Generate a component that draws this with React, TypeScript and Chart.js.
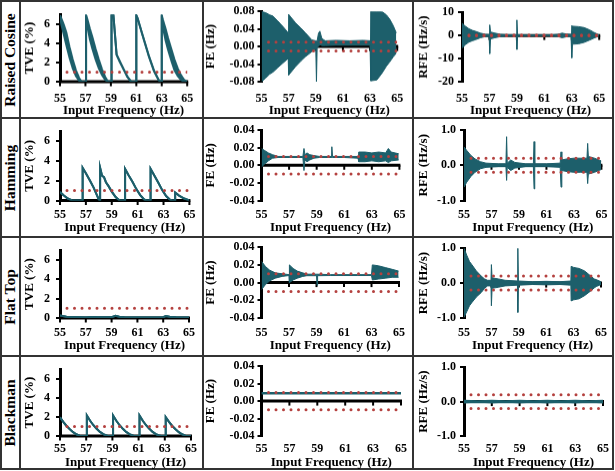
import React, { useEffect, useRef } from "react";
import { Chart, registerables } from "chart.js";

Chart.register(...registerables);

// ---------- axis ticks ----------
const FREQ_TICKS = [55, 57, 59, 61, 63, 65];
const TVE_TICKS = [0, 2, 4, 6];
const FE_TICKS_WIDE = [-0.08, -0.04, 0, 0.04, 0.08];
const FE_TICKS = [-0.04, -0.02, 0, 0.02, 0.04];
const RFE_TICKS_WIDE = [-20, -10, 0, 10];
const RFE_TICKS = [-1, 0, 1];

// ---------- compliance limits ----------
const TVE_LIMITS = [1];
const FE_LIMITS = [0.01, -0.01];
const RFE_LIMITS = [0.2, -0.2];

const WINDOW_NAMES = ["Raised Cosine", "Hamming", "Flat Top", "Blackman"];

// ---------- Raised Cosine ----------
const RC_TVE_X = [55.0, 55.1, 55.3, 55.5, 55.75, 56.0, 56.25, 56.5, 56.7, 57.05,
  57.05, 57.15, 57.35, 57.55, 57.8, 58.05, 58.3, 58.55, 58.75, 59.05,
  59.05, 59.2, 59.45, 59.7, 60.0, 60.3, 60.6, 61.0,
  61.0, 61.1, 61.5, 62.0, 62.4, 62.75, 62.9, 63.0,
  63.0, 63.1, 63.3, 63.5, 63.75, 64.0, 64.25, 64.5, 64.75, 65.0];
const RC_TVE_HI = [6.9, 6.6, 5.9, 5.1, 3.6, 2.3, 1.2, 0.4, 0.0, 0.0,
  6.9, 6.5, 5.5, 4.6, 3.4, 2.3, 1.3, 0.5, 0.05, 0.0,
  6.9, 6.9, 2.8, 2.1, 1.3, 0.5, 0.0, 0.0,
  6.9, 6.6, 4.8, 2.6, 1.1, 0.2, 0.0, 0.0,
  6.9, 6.4, 5.5, 4.5, 3.4, 2.3, 1.4, 0.7, 0.2, 0.0];
const RC_TVE_LO = [6.9, 6.0, 4.9, 3.8, 2.5, 1.4, 0.6, 0.1, 0.0, 0.0,
  6.9, 5.8, 4.4, 3.4, 2.3, 1.4, 0.7, 0.2, 0.0, 0.0,
  6.9, 6.9, 2.8, 2.1, 1.3, 0.5, 0.0, 0.0,
  6.9, 6.6, 4.8, 2.6, 1.1, 0.2, 0.0, 0.0,
  6.9, 5.6, 4.3, 3.3, 2.2, 1.2, 0.6, 0.2, 0.0, 0.0];

const RC_FE_X = [55.0, 55.3, 55.6, 55.85, 56.2, 56.56, 56.97, 57.0, 57.5, 57.9,
  58.24, 58.7, 59.0, 59.05, 59.1, 59.2, 59.3, 59.45, 59.7, 60.5,
  61.5, 62.5, 63.0, 63.05, 63.5, 63.85, 64.2, 64.45, 64.7, 64.93];
const RC_FE_HI = [0.08, 0.077, 0.072, 0.069, 0.058, 0.046, 0.031, 0.073, 0.054, 0.042,
  0.031, 0.015, 0.013, 0.013, 0.013, 0.03, 0.035, 0.018, 0.013, 0.014,
  0.013, 0.014, 0.013, 0.08, 0.08, 0.08, 0.072, 0.062, 0.048, 0.031];
const RC_FE_LO = [-0.08, -0.072, -0.063, -0.058, -0.048, -0.038, -0.027, -0.065, -0.046, -0.033,
  -0.023, -0.012, -0.005, -0.08, -0.003, 0.0, 0.005, 0.002, 0.002, 0.003,
  0.003, 0.003, 0.003, -0.078, -0.076, -0.062, -0.045, -0.035, -0.024, -0.015];

const RC_RFE_X = [55.0, 55.25, 55.5, 55.75, 56.0, 56.35, 56.7, 56.98, 57.02, 57.08,
  57.4, 57.8, 58.3, 58.97, 59.0, 59.05, 59.5, 60.5, 61.5, 62.0,
  62.3, 62.6, 62.95, 63.0, 63.05, 63.5, 63.9, 64.3, 64.6, 64.9, 65.0];
const RC_RFE_HI = [5.3, 4.0, 2.9, 2.2, 1.75, 1.0, 0.5, 0.4, 4.6, 1.5,
  1.0, 0.5, 0.3, 0.2, 6.7, 0.3, 0.2, 0.15, 0.2, 0.5,
  1.0, 0.6, 0.5, 4.3, 4.0, 3.8, 3.4, 2.4, 1.4, 0.5, 0.2];
const RC_RFE_LO = [-5.4, -4.0, -2.9, -2.3, -1.8, -1.0, -0.5, -0.4, -7.9, -1.5,
  -1.0, -0.5, -0.3, -0.2, -6.1, -0.3, -0.2, -0.15, -0.2, -0.5,
  -1.0, -0.6, -0.5, -9.7, -3.8, -3.6, -3.0, -2.0, -1.2, -0.5, -0.2];

// ---------- Hamming ----------
const HM_TVE_X = [55.0, 55.3, 55.6, 55.9, 56.1, 56.75,
  56.75, 57.0, 57.3, 57.6, 57.85, 58.0, 58.1,
  58.1, 58.25, 58.4, 58.55, 58.75, 59.0, 59.3, 59.6, 60.03,
  60.03, 60.3, 60.6, 60.9, 61.2, 61.5, 61.65, 62.0,
  62.0, 62.3, 62.6, 62.9, 63.2, 63.5, 63.65, 63.9,
  63.9, 64.2, 64.6, 65.0];
const HM_TVE_Y = [0.85, 0.5, 0.2, 0.03, 0.0, 0.0,
  3.3, 2.75, 2.05, 1.3, 0.55, 0.1, 0.0,
  3.3, 2.5, 2.35, 1.85, 1.45, 0.9, 0.35, 0.0, 0.0,
  3.2, 2.55, 1.9, 1.15, 0.55, 0.1, 0.0, 0.0,
  3.2, 2.5, 1.8, 1.05, 0.45, 0.08, 0.0, 0.0,
  0.8, 0.5, 0.2, 0.0];

const HM_FE_X = [55.0, 55.2, 55.5, 55.8, 56.2, 57.0, 58.0, 58.08, 58.15, 58.3,
  58.5, 58.8, 59.2, 60.05, 60.1, 60.15, 61.0, 62.0, 62.05, 62.5,
  63.0, 63.5, 64.0, 64.2, 64.4, 64.95];
const HM_FE_HI = [0.019, 0.017, 0.014, 0.012, 0.01, 0.01, 0.01, 0.019, 0.012, 0.014,
  0.012, 0.011, 0.01, 0.01, 0.021, 0.01, 0.01, 0.01, 0.015, 0.015,
  0.014, 0.015, 0.014, 0.019, 0.015, 0.013];
const HM_FE_LO = [-0.002, 0.001, 0.005, 0.008, 0.0088, 0.0088, 0.0088, -0.006, 0.006, 0.004,
  0.006, 0.008, 0.0088, 0.0088, 0.0088, 0.0088, 0.0088, 0.008, 0.004, 0.004,
  0.005, 0.004, 0.005, 0.003, 0.005, 0.006];

const HM_RFE_X = [55.0, 55.2, 55.5, 55.8, 56.2, 56.6, 57.5, 58.05, 58.1, 58.15,
  58.4, 58.7, 59.5, 60.05, 60.1, 60.15, 61.0, 62.0, 62.06, 62.12,
  62.5, 63.0, 63.5, 63.95, 64.0, 64.05, 64.5, 65.0];
const HM_RFE_HI = [0.52, 0.42, 0.28, 0.18, 0.1, 0.06, 0.04, 0.04, 0.81, 0.06,
  0.15, 0.08, 0.04, 0.04, 0.67, 0.04, 0.04, 0.06, 0.38, 0.15,
  0.18, 0.2, 0.2, 0.2, 0.62, 0.25, 0.2, 0.12];
const HM_RFE_LO = [-0.62, -0.48, -0.32, -0.2, -0.1, -0.06, -0.04, -0.04, -0.43, -0.06,
  -0.15, -0.08, -0.04, -0.04, -0.67, -0.04, -0.04, -0.06, -0.62, -0.15,
  -0.18, -0.2, -0.2, -0.2, -0.52, -0.25, -0.2, -0.12];

// ---------- Flat Top ----------
const FT_TVE_X = [55.0, 55.2, 55.5, 56.0, 57.0, 57.5, 58.0, 59.0, 59.3, 59.6,
  60.0, 61.0, 62.0, 63.0, 63.2, 63.5, 64.0, 65.0];
const FT_TVE_Y = [0.25, 0.2, 0.12, 0.1, 0.06, 0.1, 0.08, 0.08, 0.22, 0.12,
  0.08, 0.05, 0.06, 0.08, 0.2, 0.12, 0.08, 0.05];

const FT_FE_X = [55.0, 55.3, 55.6, 56.0, 56.5, 57.0, 57.03, 57.3, 57.6, 58.0,
  58.3, 59.0, 59.04, 59.08, 60.0, 61.0, 62.0, 63.0, 63.06, 63.5,
  64.0, 64.5, 64.97];
const FT_FE_HI = [0.024, 0.018, 0.014, 0.011, 0.01, 0.009, 0.02, 0.016, 0.013, 0.011,
  0.0095, 0.0095, 0.0095, 0.0095, 0.009, 0.009, 0.009, 0.009, 0.02, 0.019,
  0.017, 0.015, 0.013];
const FT_FE_LO = [-0.008, -0.002, 0.002, 0.005, 0.007, 0.008, 0.0, 0.003, 0.005, 0.007,
  0.0078, 0.0078, -0.003, 0.0078, 0.008, 0.008, 0.008, 0.008, 0.003, 0.004,
  0.005, 0.006, 0.006];

const FT_RFE_X = [55.0, 55.2, 55.4, 55.57, 55.9, 56.26, 56.5, 56.72, 56.97, 57.0,
  57.05, 57.5, 58.0, 58.9, 58.93, 58.97, 60.0, 61.0, 62.0, 62.8,
  62.82, 63.0, 63.4, 63.8, 64.2, 64.5, 64.65, 65.0];
const FT_RFE_HI = [1.0, 0.8, 0.62, 0.53, 0.35, 0.2, 0.12, 0.08, 0.08, 0.53,
  0.15, 0.12, 0.08, 0.06, 1.0, 0.06, 0.04, 0.05, 0.04, 0.06,
  0.48, 0.45, 0.42, 0.35, 0.22, 0.12, 0.1, 0.04];
const FT_RFE_LO = [-0.98, -0.82, -0.65, -0.56, -0.4, -0.27, -0.15, -0.08, -0.08, -0.65,
  -0.15, -0.12, -0.08, -0.06, -0.84, -0.06, -0.04, -0.05, -0.04, -0.06,
  -0.51, -0.48, -0.45, -0.36, -0.24, -0.14, -0.1, -0.04];

// ---------- Blackman ----------
const BM_TVE_X = [55.0, 55.25, 55.5, 55.75, 56.0, 56.25, 56.5, 56.6, 57.05,
  57.05, 57.3, 57.55, 57.8, 58.05, 58.3, 58.55, 58.65, 59.05,
  59.05, 59.3, 59.55, 59.8, 60.05, 60.3, 60.55, 60.65, 61.07,
  61.07, 61.32, 61.57, 61.82, 62.07, 62.32, 62.57, 62.7, 63.07,
  63.07, 63.32, 63.57, 63.82, 64.07, 64.32, 64.57, 64.8, 65.0];
const BM_TVE_Y = [1.97, 1.48, 1.05, 0.7, 0.4, 0.18, 0.04, 0.0, 0.0,
  2.15, 1.6, 1.13, 0.75, 0.43, 0.19, 0.05, 0.0, 0.0,
  2.15, 1.6, 1.13, 0.75, 0.43, 0.19, 0.05, 0.0, 0.0,
  2.15, 1.6, 1.13, 0.75, 0.43, 0.19, 0.05, 0.0, 0.0,
  1.97, 1.48, 1.05, 0.7, 0.4, 0.18, 0.04, 0.0, 0.0];

const BM_FE_X = [55, 57, 59, 61, 63, 65];
const BM_FE_HI = [0.0095, 0.0095, 0.0095, 0.0095, 0.0095, 0.0095];
const BM_FE_LO = [0.0085, 0.0085, 0.0085, 0.0085, 0.0085, 0.0085];

const BM_RFE_X = [55, 56, 57, 58, 59, 60, 61, 62, 63, 64, 65];
const BM_RFE_HI = [0.03, 0.02, 0.03, 0.02, 0.03, 0.02, 0.03, 0.02, 0.03, 0.02, 0.03];
const BM_RFE_LO = [-0.03, -0.02, -0.03, -0.02, -0.03, -0.02, -0.03, -0.02, -0.03, -0.02, -0.03];

// ---------- styling / layout ----------
const TEAL = "#1d5f6b";
const RED = "#b4413f";
const SERIF = '"Liberation Serif", "Times New Roman", serif';
const TICK_FONT = { family: SERIF, size: 12, weight: "bold" as const };
const TITLE_FONT = { family: SERIF, size: 13, weight: "bold" as const };
const TITLE_HALF = 7.8;

const CANVAS_X = [20, 203, 413, 615];
const ROW_Y = [1, 118, 237, 356, 470];
const PLOT_TOP = [11, 130, 247, 365];
const PLOT_BOTTOM = [81.5, 200.5, 318, 436];
const PLOT_LEFT = [
  [60, 261.5, 462],
  [60, 261.5, 464],
  [60, 261.5, 464],
  [60, 261.5, 464],
];
const PLOT_RIGHT = [
  [193, 401, 605],
  [193, 402, 607],
  [193, 402, 607],
  [193, 402, 607],
];
const X_TITLE_Y = [110.5, 228, 346, 463];
const X_LABEL_GAP = [17, 14.8, 15.2, 13.2];
const Y_TITLE_X = [30, 211, 424];
const Y_LABEL_PAD = [6, 3, 4];

type PanelSpec = {
  row: number;
  col: number;
  x: number[];
  hi: number[];
  lo?: number[];
  lineWidth: number;
  yMin: number;
  yMax: number;
  yTicks: number[];
  decimals: number;
  limits: number[];
  yTitle: string;
};

const PANELS: PanelSpec[] = [
  { row: 0, col: 0, x: RC_TVE_X, hi: RC_TVE_HI, lo: RC_TVE_LO, lineWidth: 2, yMin: 0, yMax: 7, yTicks: TVE_TICKS, decimals: 0, limits: TVE_LIMITS, yTitle: "TVE (%)" },
  { row: 0, col: 1, x: RC_FE_X, hi: RC_FE_HI, lo: RC_FE_LO, lineWidth: 1, yMin: -0.08, yMax: 0.08, yTicks: FE_TICKS_WIDE, decimals: 2, limits: FE_LIMITS, yTitle: "FE (Hz)" },
  { row: 0, col: 2, x: RC_RFE_X, hi: RC_RFE_HI, lo: RC_RFE_LO, lineWidth: 1, yMin: -20, yMax: 10, yTicks: RFE_TICKS_WIDE, decimals: 0, limits: RFE_LIMITS, yTitle: "RFE (Hz/s)" },
  { row: 1, col: 0, x: HM_TVE_X, hi: HM_TVE_Y, lineWidth: 2, yMin: 0, yMax: 7, yTicks: TVE_TICKS, decimals: 0, limits: TVE_LIMITS, yTitle: "TVE (%)" },
  { row: 1, col: 1, x: HM_FE_X, hi: HM_FE_HI, lo: HM_FE_LO, lineWidth: 1, yMin: -0.04, yMax: 0.04, yTicks: FE_TICKS, decimals: 2, limits: FE_LIMITS, yTitle: "FE (Hz)" },
  { row: 1, col: 2, x: HM_RFE_X, hi: HM_RFE_HI, lo: HM_RFE_LO, lineWidth: 1, yMin: -1, yMax: 1, yTicks: RFE_TICKS, decimals: 1, limits: RFE_LIMITS, yTitle: "RFE (Hz/s)" },
  { row: 2, col: 0, x: FT_TVE_X, hi: FT_TVE_Y, lineWidth: 2, yMin: 0, yMax: 7, yTicks: TVE_TICKS, decimals: 0, limits: TVE_LIMITS, yTitle: "TVE (%)" },
  { row: 2, col: 1, x: FT_FE_X, hi: FT_FE_HI, lo: FT_FE_LO, lineWidth: 1, yMin: -0.04, yMax: 0.04, yTicks: FE_TICKS, decimals: 2, limits: FE_LIMITS, yTitle: "FE (Hz)" },
  { row: 2, col: 2, x: FT_RFE_X, hi: FT_RFE_HI, lo: FT_RFE_LO, lineWidth: 1, yMin: -1, yMax: 1, yTicks: RFE_TICKS, decimals: 1, limits: RFE_LIMITS, yTitle: "RFE (Hz/s)" },
  { row: 3, col: 0, x: BM_TVE_X, hi: BM_TVE_Y, lineWidth: 2, yMin: 0, yMax: 7, yTicks: TVE_TICKS, decimals: 0, limits: TVE_LIMITS, yTitle: "TVE (%)" },
  { row: 3, col: 1, x: BM_FE_X, hi: BM_FE_HI, lo: BM_FE_LO, lineWidth: 1.5, yMin: -0.04, yMax: 0.04, yTicks: FE_TICKS, decimals: 2, limits: FE_LIMITS, yTitle: "FE (Hz)" },
  { row: 3, col: 2, x: BM_RFE_X, hi: BM_RFE_HI, lo: BM_RFE_LO, lineWidth: 1.5, yMin: -1, yMax: 1, yTicks: RFE_TICKS, decimals: 1, limits: RFE_LIMITS, yTitle: "RFE (Hz/s)" },
];

// Horizontal axis drawn through zero, with tick marks hanging below it.
const zeroAxis = {
  id: "zeroAxis",
  beforeDatasetsDraw(chart: any) {
    const { ctx, chartArea, scales } = chart;
    const y0 = scales.y.getPixelForValue(0);
    ctx.save();
    ctx.strokeStyle = "#000";
    ctx.lineWidth = 3;
    ctx.beginPath();
    ctx.moveTo(chartArea.left, y0);
    ctx.lineTo(chartArea.right + 1, y0);
    ctx.stroke();
    ctx.lineWidth = 2;
    for (const v of FREQ_TICKS) {
      const x = scales.x.getPixelForValue(v);
      ctx.beginPath();
      ctx.moveTo(x, y0);
      ctx.lineTo(x, y0 + 4.5);
      ctx.stroke();
    }
    ctx.restore();
  },
};

function geometry(p: PanelSpec) {
  const left = CANVAS_X[p.col];
  const right = CANVAS_X[p.col + 1];
  const top = ROW_Y[p.row];
  const bottom = X_TITLE_Y[p.row] + 10;
  const plotTop = PLOT_TOP[p.row];
  const plotBottom = PLOT_BOTTOM[p.row];
  const plotLeft = PLOT_LEFT[p.row][p.col];
  const plotRight = PLOT_RIGHT[p.row][p.col];
  return {
    left,
    top,
    width: right - left,
    height: bottom - top,
    padTop: plotTop - top,
    padRight: right - plotRight,
    padBottom: bottom - (X_TITLE_Y[p.row] + TITLE_HALF),
    xAxisH: X_TITLE_Y[p.row] + TITLE_HALF - plotBottom,
    yAxisW: plotLeft - left,
    xLabelPad: X_LABEL_GAP[p.row] - 7.2,
    yLabelPad: Y_LABEL_PAD[p.col],
    yTitlePad: Y_TITLE_X[p.col] - left - TITLE_HALF,
  };
}

function makeConfig(p: PanelSpec, g: ReturnType<typeof geometry>): any {
  const x0 = FREQ_TICKS[0];
  const x1 = FREQ_TICKS[FREQ_TICKS.length - 1];
  const pts = (ys: number[]) => p.x.map((x, i) => ({ x, y: ys[i] }));
  const datasets: any[] = p.limits.map((v) => ({
    data: [{ x: x0, y: v }, { x: x1, y: v }],
    borderColor: RED,
    borderWidth: 3,
    borderDash: [0, 7.5],
    borderDashOffset: 0.5,
    borderCapStyle: "round",
    pointRadius: 0,
    fill: false,
  }));
  datasets.push({
    data: pts(p.hi),
    borderColor: TEAL,
    backgroundColor: TEAL,
    borderWidth: p.lineWidth,
    pointRadius: 0,
    fill: false,
  });
  datasets.push({
    data: pts(p.lo ?? p.hi),
    borderColor: TEAL,
    backgroundColor: TEAL,
    borderWidth: p.lineWidth,
    pointRadius: 0,
    fill: "-1",
  });

  return {
    type: "line",
    data: { datasets },
    options: {
      responsive: false,
      animation: false,
      events: [],
      devicePixelRatio: 1,
      layout: { padding: { left: 0, top: g.padTop, right: g.padRight, bottom: g.padBottom } },
      plugins: { legend: { display: false }, tooltip: { enabled: false } },
      scales: {
        x: {
          type: "linear",
          min: x0,
          max: x1,
          afterBuildTicks: (s: any) => {
            s.ticks = FREQ_TICKS.map((v) => ({ value: v }));
          },
          afterFit: (s: any) => {
            s.height = g.xAxisH;
          },
          grid: { display: false, drawTicks: false, tickLength: 0 },
          border: { display: false },
          ticks: { padding: g.xLabelPad, font: TICK_FONT, color: "#000", maxRotation: 0, autoSkip: false },
          title: { display: true, text: "Input Frequency (Hz)", font: TITLE_FONT, color: "#000", padding: 0 },
        },
        y: {
          type: "linear",
          min: p.yMin,
          max: p.yMax,
          afterBuildTicks: (s: any) => {
            s.ticks = p.yTicks.map((v) => ({ value: v }));
          },
          afterFit: (s: any) => {
            s.width = g.yAxisW;
          },
          grid: { display: true, drawOnChartArea: false, drawTicks: true, tickLength: 4, color: "#000", lineWidth: 2 },
          border: { display: true, color: "#000", width: 3 },
          ticks: {
            padding: g.yLabelPad,
            font: TICK_FONT,
            color: "#000",
            callback: (v: any) => Number(v).toFixed(p.decimals),
          },
          title: {
            display: true,
            text: p.yTitle,
            font: TITLE_FONT,
            color: "#000",
            padding: { top: g.yTitlePad, bottom: 0 },
          },
        },
      },
    },
    plugins: [zeroAxis],
  };
}

function PanelChart({ spec }: { spec: PanelSpec }) {
  const ref = useRef<HTMLCanvasElement>(null);
  const g = geometry(spec);
  useEffect(() => {
    if (!ref.current) return;
    const chart = new Chart(ref.current, makeConfig(spec, g));
    return () => chart.destroy();
  }, []);
  return (
    <canvas
      ref={ref}
      width={g.width}
      height={g.height}
      style={{ position: "absolute", left: g.left, top: g.top, width: g.width, height: g.height }}
    />
  );
}

const LINE = "#333";

export default function App() {
  const rowCenters = [59.5, 177.5, 296.5, 413];
  return (
    <div
      style={{
        position: "fixed",
        left: 0,
        top: 0,
        width: 615,
        height: 471,
        background: "#fff",
        overflow: "hidden",
        fontFamily: SERIF,
      }}
    >
      {/* table frame */}
      <div style={{ position: "absolute", left: 0, top: 0, width: 614, height: 2, background: LINE }} />
      <div style={{ position: "absolute", left: 0, top: 468, width: 614, height: 2, background: LINE }} />
      <div style={{ position: "absolute", left: 0, top: 0, width: 2, height: 470, background: LINE }} />
      <div style={{ position: "absolute", left: 612, top: 0, width: 2, height: 470, background: LINE }} />
      {[19, 202, 412].map((x) => (
        <div key={"v" + x} style={{ position: "absolute", left: x, top: 0, width: 1.5, height: 470, background: LINE }} />
      ))}
      {[117, 236, 355].map((y) => (
        <div key={"h" + y} style={{ position: "absolute", left: 0, top: y, width: 614, height: 1.5, background: LINE }} />
      ))}

      {WINDOW_NAMES.map((name, i) => (
        <div
          key={name}
          style={{
            position: "absolute",
            left: 10,
            top: rowCenters[i],
            transform: "translate(-50%, -50%) rotate(-90deg)",
            whiteSpace: "nowrap",
            fontWeight: "bold",
            fontSize: 15.5,
            lineHeight: 1,
            color: "#000",
          }}
        >
          {name}
        </div>
      ))}

      {PANELS.map((p) => (
        <PanelChart key={p.row + "-" + p.col} spec={p} />
      ))}
    </div>
  );
}
